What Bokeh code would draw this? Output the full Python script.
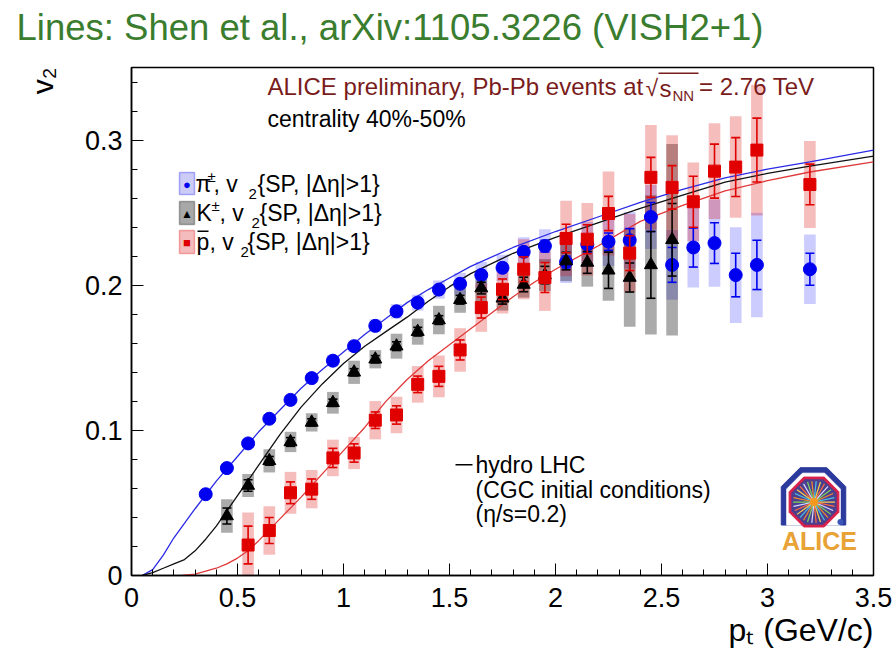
import numpy as np
from bokeh.plotting import figure
from bokeh.models import (Range1d, FixedTicker, Label, BoxAnnotation, Title,
                          ColumnDataSource, CustomJSTickFormatter)
from bokeh.embed import file_html
from bokeh.resources import INLINE

# ---------------- data ----------------
x_ticks = [0, 0.5, 1, 1.5, 2, 2.5, 3, 3.5]
x_minor = [round(0.1 * i, 1) for i in range(0, 36)]
y_ticks = [0, 0.1, 0.2, 0.3]
y_minor = [round(0.02 * i, 2) for i in range(0, 18)]

pi_pt = [0.35, 0.45, 0.55, 0.65, 0.75, 0.85, 0.95, 1.05, 1.15, 1.25, 1.35, 1.45, 1.55, 1.65,
         1.75, 1.85, 1.95, 2.05, 2.15, 2.25, 2.35, 2.45, 2.55, 2.65, 2.75, 2.85, 2.95, 3.2]
pi_v2 = [0.056, 0.074, 0.091, 0.108, 0.121, 0.136, 0.148, 0.158, 0.172, 0.182, 0.188, 0.197,
         0.201, 0.207, 0.212, 0.223, 0.227, 0.216, 0.228, 0.230, 0.231, 0.247, 0.214, 0.226,
         0.229, 0.207, 0.214, 0.211]
pi_stat = [0.001, 0.001, 0.001, 0.001, 0.001, 0.001, 0.001, 0.001, 0.001, 0.0015, 0.0015, 0.002,
           0.002, 0.0025, 0.003, 0.003, 0.004, 0.004, 0.005, 0.006, 0.008, 0.010, 0.012, 0.0135,
           0.014, 0.015, 0.017, 0.011]
pi_sys = [0.003, 0.003, 0.003, 0.003, 0.003, 0.0035, 0.004, 0.004, 0.0045, 0.005, 0.0055, 0.0063,
          0.0075, 0.009, 0.009, 0.010, 0.0115, 0.0145, 0.0155, 0.0167, 0.0195, 0.022, 0.024,
          0.0276, 0.030, 0.033, 0.036, 0.024]

k_pt = [0.45, 0.55, 0.65, 0.75, 0.85, 0.95, 1.05, 1.15, 1.25, 1.35, 1.45, 1.55, 1.65, 1.75,
        1.85, 1.95, 2.05, 2.15, 2.25, 2.35, 2.45, 2.55]
k_v2 = [0.041, 0.062, 0.079, 0.092, 0.1055, 0.119, 0.140, 0.149, 0.158, 0.168, 0.176, 0.190,
        0.198, 0.191, 0.2005, 0.207, 0.2166, 0.2157, 0.2103, 0.2053, 0.214, 0.2313]
k_stat = [0.0055, 0.004, 0.003, 0.003, 0.0025, 0.0025, 0.0025, 0.0025, 0.003, 0.003, 0.003,
          0.003, 0.004, 0.004, 0.005, 0.006, 0.006, 0.0075, 0.0125, 0.010, 0.023, 0.025]
k_sys = [0.0115, 0.008, 0.008, 0.007, 0.0063, 0.0075, 0.008, 0.0063, 0.0086, 0.009, 0.0098,
         0.009, 0.009, 0.0085, 0.009, 0.011, 0.0138, 0.0167, 0.021, 0.034, 0.048, 0.066]

p_pt = [0.55, 0.65, 0.75, 0.85, 0.95, 1.05, 1.15, 1.25, 1.35, 1.45, 1.55, 1.65, 1.75, 1.85,
        1.95, 2.05, 2.15, 2.25, 2.35, 2.45, 2.55, 2.65, 2.75, 2.85, 2.95, 3.2]
p_v2 = [0.021, 0.031, 0.057, 0.0595, 0.081, 0.0844, 0.107, 0.1106, 0.1317, 0.1372, 0.1554,
        0.1846, 0.1972, 0.211, 0.2053, 0.2322, 0.2317, 0.2494, 0.2221, 0.2743, 0.2674, 0.2575,
        0.2786, 0.2814, 0.2931, 0.2694]
p_stat = [0.013, 0.009, 0.0075, 0.007, 0.0066, 0.0063, 0.0057, 0.0063, 0.0057, 0.0069, 0.0069,
          0.0072, 0.0071, 0.0085, 0.0103, 0.0098, 0.010, 0.0118, 0.012, 0.0138, 0.015, 0.0176,
          0.0186, 0.0203, 0.022, 0.014]
p_sys = [0.0224, 0.0167, 0.0144, 0.0132, 0.0126, 0.0111, 0.0132, 0.0126, 0.0126, 0.0144, 0.015,
         0.0167, 0.0167, 0.0207, 0.023, 0.026, 0.025, 0.029, 0.027, 0.036, 0.036, 0.027, 0.033,
         0.035, 0.045, 0.030]

# hydro (VISH2+1) curves
hydro_pi_pt = [0.05, 0.1, 0.15, 0.2, 0.3, 0.4, 0.5, 0.6, 0.7, 0.8, 0.9, 1.0, 1.1, 1.2, 1.3, 1.4,
               1.5, 1.6, 1.8, 2.0, 2.2, 2.4, 2.6, 2.8, 3.0, 3.2, 3.5]
hydro_pi_v2 = [0.0, 0.004, 0.014, 0.026, 0.046, 0.065, 0.082, 0.099, 0.114, 0.129, 0.142, 0.154,
               0.166, 0.177, 0.188, 0.197, 0.205, 0.213, 0.226, 0.237, 0.247, 0.257, 0.266,
               0.274, 0.280, 0.285, 0.293]
hydro_k_pt = [0.05, 0.1, 0.15, 0.2, 0.25, 0.3, 0.35, 0.4, 0.5, 0.6, 0.7, 0.8, 0.9, 1.0, 1.1, 1.2,
              1.3, 1.4, 1.5, 1.6, 1.8, 2.0, 2.2, 2.4, 2.6, 2.8, 3.0, 3.2, 3.5]
hydro_k_v2 = [0.0, 0.002, 0.005, 0.008, 0.011, 0.017, 0.025, 0.034, 0.055, 0.076, 0.097, 0.116,
              0.132, 0.146, 0.158, 0.168, 0.178, 0.189, 0.199, 0.208, 0.222, 0.233, 0.243,
              0.253, 0.262, 0.271, 0.277, 0.282, 0.289]
hydro_p_pt = [0.24, 0.3, 0.35, 0.4, 0.45, 0.5, 0.55, 0.6, 0.7, 0.8, 0.9, 1.0, 1.1, 1.2, 1.3, 1.4,
              1.5, 1.6, 1.7, 1.8, 1.9, 2.0, 2.2, 2.4, 2.6, 2.8, 3.0, 3.2, 3.5]
hydro_p_v2 = [0.0, 0.001, 0.003, 0.005, 0.008, 0.012, 0.017, 0.024, 0.039, 0.054, 0.070, 0.086,
              0.102, 0.120, 0.135, 0.148, 0.159, 0.170, 0.181, 0.192, 0.202, 0.211, 0.227,
              0.244, 0.255, 0.265, 0.272, 0.278, 0.285]

# ---------------- figure ----------------
FONT = "Liberation Sans"
W, H = 895, 651
FL, FR, FT, FB = 129, 873, 67, 575          # frame edges on the canvas

p = figure(width=W, height=H, x_range=Range1d(0, 3.5), y_range=Range1d(0, 0.35),
           output_backend="svg", toolbar_location=None, title=None,
           min_border_left=FL, min_border_right=W - FR,
           min_border_top=FT, min_border_bottom=H - FB)
p.background_fill_color = "white"
p.border_fill_color = "white"
p.grid.visible = False
p.outline_line_color = "black"
p.outline_line_width = 1.5

# page title, placed in the panel above the frame
p.add_layout(Label(x=14 - FL, y=FT - 27, x_units="screen", y_units="screen",
                   text="Lines: Shen et al., arXiv:1105.3226 (VISH2+1)",
                   text_font=FONT, text_font_size="36.5px", text_color="#3b7d2e",
                   text_align="left", text_baseline="middle"), "above")

fmt = CustomJSTickFormatter(code="return tick.toString()")
for ax, ticks, minor, so in ((p.xaxis[0], x_ticks, x_minor, 12), (p.yaxis[0], y_ticks, y_minor, 9)):
    ax.ticker = FixedTicker(ticks=ticks, minor_ticks=minor)
    ax.formatter = fmt
    ax.axis_line_color = "black"
    ax.axis_line_width = 1.5
    ax.major_tick_in = 12
    ax.major_tick_out = 0
    ax.minor_tick_in = 6
    ax.minor_tick_out = 0
    ax.major_tick_line_color = "black"
    ax.minor_tick_line_color = "black"
    ax.major_label_text_font = FONT
    ax.major_label_text_font_size = "27px"
    ax.major_label_text_color = "black"
    ax.major_label_standoff = so

# axis titles (ROOT style: at the axis ends)
p.add_layout(Title(text="v\u2082", align="right", text_font=FONT, text_font_style="normal",
                   text_font_size="30px", text_color="black", standoff=46), "left")
p.add_layout(Title(text="p\u209c (GeV/c)", align="right", text_font=FONT,
                   text_font_style="normal", text_font_size="32px", text_color="black",
                   standoff=0), "below")

BLUE, BLACK, RED = "#0000f0", "#000000", "#e00000"
BOX_W = 0.055

species = [
    (pi_pt, pi_v2, pi_stat, pi_sys, BLUE, "#0000ff", 0.20, "circle", 13),
    (k_pt, k_v2, k_stat, k_sys, BLACK, "#000000", 0.33, "triangle", 13),
    (p_pt, p_v2, p_stat, p_sys, RED, "#dd0000", 0.26, "square", 12),
]

# systematic boxes
for pt, v2, st, sy, col, bcol, balpha, mk, sz in species:
    src = ColumnDataSource(dict(x=pt, y=v2, h=[2 * s for s in sy]))
    p.rect(x="x", y="y", width=BOX_W, height="h", source=src,
           fill_color=bcol, fill_alpha=balpha, line_color=None)

# hydro curves
p.line(hydro_pi_pt, hydro_pi_v2, line_color="#2a2ae6", line_width=1.3)
p.line(hydro_k_pt, hydro_k_v2, line_color="#111111", line_width=1.3)
p.line(hydro_p_pt, hydro_p_v2, line_color="#e03838", line_width=1.3)

# statistical bars and markers
for pt, v2, st, sy, col, bcol, balpha, mk, sz in species:
    src = ColumnDataSource(dict(x=pt, y=v2,
                                lo=[a - b for a, b in zip(v2, st)],
                                hi=[a + b for a, b in zip(v2, st)]))
    p.segment(x0="x", y0="lo", x1="x", y1="hi", source=src, line_color=col, line_width=1.6)
    p.scatter(x="x", y="lo", source=src, marker="dash", size=9, line_color=col, line_width=1.6)
    p.scatter(x="x", y="hi", source=src, marker="dash", size=9, line_color=col, line_width=1.6)
    p.scatter(x="x", y="y", source=src, marker=mk, size=sz, fill_color=col, line_color=col)

# ---------------- ALICE logo (decoration) ----------------
PXX, PXY = 3.5 / (FR - FL), 0.35 / (FB - FT)   # data units per pixel
lx, ly = 3.217, 0.052
ang = np.deg2rad(np.arange(22.5, 360, 45))
upper = np.deg2rad([22.5, 67.5, 112.5, 157.5])
bx = [lx + 35 * PXX * np.cos(a) for a in upper]
by = [ly + 35 * PXY * np.sin(a) for a in upper]
bx = [bx[0]] + bx + [bx[-1]]
by = [ly - 25 * PXY] + by + [ly - 25 * PXY]
p.patch(bx, by, fill_color="#2b3a9c", line_color="#2b3a9c")
wx = [lx + 29 * PXX * np.cos(a) for a in upper]
wy = [ly + 29 * PXY * np.sin(a) for a in upper]
wx = [wx[0]] + wx + [wx[-1]]
wy = [ly - 25 * PXY] + wy + [ly - 25 * PXY]
p.patch(wx, wy, fill_color="white", line_color="white")
cx, cy = lx + 0.5 * PXX, ly - 2 * PXY
p.patch([cx + 27 * PXX * np.cos(a) for a in ang], [cy + 27 * PXY * np.sin(a) for a in ang],
        fill_color="#d8204a", line_color="#d8204a")
p.patch([cx + 24 * PXX * np.cos(a) for a in ang], [cy + 24 * PXY * np.sin(a) for a in ang],
        fill_color="#4b3f8f", line_color="#4b3f8f")
ray_cols = ["#f6d44a", "#49c2e6", "#f08a2e", "#7fd35a", "#d9d9ff", "#ff6a3d"]
ra = np.deg2rad(np.arange(0, 360, 12))
p.segment(x0=[cx] * len(ra), y0=[cy] * len(ra),
          x1=[cx + 21 * PXX * np.cos(a) for a in ra], y1=[cy + 21 * PXY * np.sin(a) for a in ra],
          line_color=[ray_cols[i % len(ray_cols)] for i in range(len(ra))], line_width=1.2)
p.scatter([cx], [cy], marker="circle", size=8, fill_color="#f39a1e", line_color=None)
p.scatter([lx + 27 * PXX], [ly - 22 * PXY], marker="circle", size=6, fill_color="#3b55b8",
          line_color=None)


# ---------------- texts inside the frame ----------------
def lab(text, x, y, size, color="black", align="left", baseline="middle", angle=0.0,
        style="normal", font=FONT):
    p.add_layout(Label(x=x - FL, y=FB - y, x_units="screen", y_units="screen", text=text,
                       text_font=font, text_font_size=f"{size}px", text_color=color,
                       text_align=align, text_baseline=baseline, angle=angle,
                       text_font_style=style))


def hbox(l, r, t, b, fill, line=None, lw=1.0, alpha=1.0):
    p.add_layout(BoxAnnotation(left=l - FL, right=r - FL, top=FB - t, bottom=FB - b,
                               left_units="screen", right_units="screen",
                               top_units="screen", bottom_units="screen",
                               fill_color=fill, fill_alpha=alpha,
                               line_color=line, line_width=lw))


# header
DR = "#7a1c1c"
lab("ALICE preliminary, Pb-Pb events at", 265, 86, 24, color=DR)
lab("\u221a", 643, 87, 23, color=DR)
hbox(656, 696, 72, 73.5, DR)
lab("s", 657, 88, 24, color=DR)
lab("NN", 670, 95, 15, color=DR)
lab("= 2.76 TeV", 812, 86, 24, color=DR, align="right")
lab("centrality 40%-50%", 265, 118, 23)

# legend
hbox(177, 192, 172, 194, "#ccccf7", line="#0000f0", lw=1.5)
hbox(177, 192, 201, 224, "#a8a8a8", line="black", lw=1.5)
hbox(177, 192, 230, 253, "#f4bcbc", line="#e00000", lw=1.5)
lab("\u25cf", 184.5, 184, 13, color=BLUE, align="center")
lab("\u25b2", 184.5, 213, 12, color=BLACK, align="center")
lab("\u25a0", 184.5, 242, 13, color=RED, align="center")

lab("\u03c0", 193, 183, 23)
lab("\u00b1", 205, 176, 15)
lab(", v", 211, 183, 23)
lab("2", 246, 193, 15)
lab("{SP, |\u0394\u03b7|>1}", 255, 183, 23)

lab("K", 194, 212, 23)
lab("\u00b1", 209, 205, 15)
lab(", v", 217, 212, 23)
lab("2", 249, 222, 15)
lab("{SP, |\u0394\u03b7|>1}", 257, 212, 23)

lab("p", 194, 241, 23)
hbox(195, 206, 230, 231.5, "black")
lab(", v", 207, 241, 23)
lab("2", 238, 251, 15)
lab("{SP, |\u0394\u03b7|>1}", 245, 241, 23)

# hydro annotation
hbox(453, 470, 463.5, 465, "black")
lab("hydro LHC", 473, 464, 23)
lab("(CGC initial conditions)", 473, 489, 23)
lab("(\u03b7/s=0.2)", 473, 513, 23)

# ALICE logo text
lab("ALICE", 817, 540, 25, color="#e8a235", align="center", style="bold")

open("out.html", "w").write(file_html(p, INLINE))
